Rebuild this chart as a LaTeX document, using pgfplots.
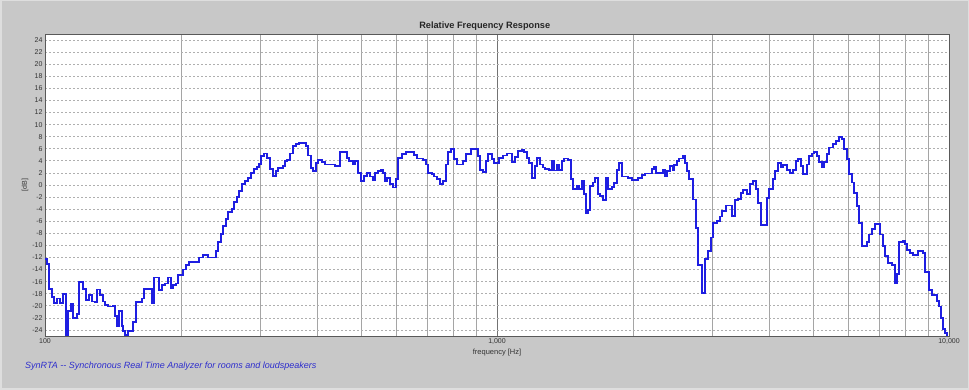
\documentclass[border=0pt]{standalone}
\usepackage{pgfplots}
\pgfplotsset{compat=1.18}
\usepackage{fontspec}
\setmainfont{Liberation Sans}
\definecolor{bgGray}{RGB}{200,200,200}
\definecolor{frameLight}{RGB}{222,222,222}
\definecolor{gridGray}{RGB}{165,165,165}
\definecolor{dotGray}{RGB}{175,175,175}
\definecolor{curveBlue}{RGB}{30,30,225}
\definecolor{footBlue}{RGB}{45,45,205}
\begin{document}
\begin{tikzpicture}[x=1pt,y=1pt]
\fill[bgGray] (0,0) rectangle (969,390);
\draw[frameLight,line width=1.5pt] (0.75,0.75) rectangle (968.25,389.25);
\begin{axis}[
  at={(45pt,54pt)}, anchor=south west,
  width=904pt, height=302pt, scale only axis,
  xmode=log, xmin=100, xmax=10000, ymin=-25, ymax=25,
  axis background/.style={fill=white},
  xtick={100,1000,10000},
  xticklabels={100,{1,000},{10,000}},
  minor xtick={200,300,400,500,600,700,800,900,2000,3000,4000,5000,6000,7000,8000,9000},
  ytick={-24,-22,...,24},
  xmajorgrids, xminorgrids, ymajorgrids,
  major x grid style={draw=black!55, line width=0.8pt},
  minor x grid style={draw=gridGray, line width=0.8pt},
  major y grid style={draw=dotGray, line width=0.7pt, dash pattern=on 2pt off 2pt},
  major tick length=0pt, minor tick length=0pt,
  axis line style={draw=black!65, line width=0.9pt},
  ticklabel style={font=\fontsize{7}{8}\selectfont, text=black!80},
  /pgf/number format/assume math mode=true,
  xticklabel style={yshift=1pt},
  yticklabel style={xshift=1pt},
  clip=true,
]
\addplot[const plot mark left, draw=curveBlue, line width=1.8pt, mark=none] table {
x y
100 -12.3
101.0 -13.1
102.2 -17.2
103.5 -18.5
104.8 -19.6
106.5 -18.8
107.9 -19.6
109.4 -18.0
111.3 -26
112.6 -20.8
114.0 -19.7
115.5 -22.0
117.5 -21.4
119.1 -16.1
121.5 -17.2
123.2 -19.0
125.3 -18.2
126.9 -19.3
129.0 -19.4
130.5 -17.3
132.3 -18.2
134.2 -19.3
135.8 -19.9
138.1 -20.1
141.6 -20.0
142.8 -21.7
144.1 -23.3
146.0 -20.9
147.8 -23.4
149.0 -24.2
150.3 -24.8
152.9 -24.2
156.8 -22.7
159.0 -19.4
163.7 -18.8
165.6 -17.2
172.2 -19.6
174.3 -15.3
179.0 -17.4
181.2 -16.6
184.3 -16.3
187.4 -15.3
189.7 -17.0
192.2 -16.5
194.9 -16.3
197.2 -14.9
202.3 -14.0
205.1 -13.2
208.6 -12.8
219.5 -12.0
224.0 -11.6
229.8 -12.0
239.0 -10.9
241.8 -9.5
244.7 -8.1
248.0 -6.8
251.5 -5.6
254.4 -4.5
258.9 -4.0
261.9 -2.8
265.6 -2.0
269.1 -1.0
272.4 0.1
277.0 0.6
281.7 1.2
285.2 2.0
290.0 2.6
294.0 3.0
297.9 3.5
300.0 4.8
305.2 5.2
309.3 4.5
314.6 2.6
319.0 1.5
324.4 2.3
328.2 2.8
335.6 3.1
339.6 4.0
343.6 4.2
348.3 5.2
353.2 6.4
359.2 6.8
365.3 7.0
377.9 6.4
382.4 4.9
387.1 2.8
392.3 2.3
397.7 3.7
402.4 4.2
409.4 3.8
416.4 3.4
438.2 3.2
449.4 5.4
465.1 4.5
471.3 4.0
479.5 3.5
485.1 4.0
493.3 2.0
500.0 0.7
508.6 1.5
514.9 2.0
523.6 1.4
530.9 0.8
537.1 2.0
546.2 2.3
552.9 2.5
558.6 2.0
565.2 0.7
571.8 1.1
579.8 0.2
589.7 -0.4
597.8 1.0
604.9 4.5
615.4 5.1
629.1 5.4
656.2 5.0
664.3 4.4
687.1 4.1
696.6 3.4
704.8 2.0
717.1 1.8
725.5 1.4
735.6 1.0
748.0 0.2
760.7 0.7
771.2 3.4
780.3 5.4
790.0 6.0
803.3 4.3
814.5 3.4
842.3 4.0
852.7 5.1
874.7 6.0
909.2 4.8
917.0 2.5
932.7 2.2
945.6 4.0
956.7 5.1
973.4 4.3
984.8 3.7
1012 4.5
1030 4.9
1051 5.2
1078 3.8
1096 4.7
1115 5.6
1134 5.8
1147 5.5
1163 4.5
1179 3.7
1193 1.1
1214 3.2
1228 4.5
1245 3.4
1262 2.9
1277 2.6
1305 2.5
1321 4.0
1337 2.4
1356 3.4
1374 2.5
1391 4.0
1409 4.4
1438 4.2
1456 1.0
1475 -0.7
1501 -0.2
1521 -0.7
1540 0.7
1558 -1.5
1571 -4.6
1592 -4.2
1606 -0.2
1628 0.4
1648 1.2
1670 -1.5
1690 -1.8
1719 -2.5
1743 1.2
1763 -0.6
1794 -0.3
1815 0.3
1840 2.5
1864 3.7
1888 1.4
1952 1.2
1986 0.8
2054 1.2
2090 1.6
2125 1.9
2199 2.7
2225 3.0
2248 2.0
2326 2.5
2353 1.5
2381 2.3
2414 3.2
2447 2.5
2464 3.3
2498 4.0
2531 4.4
2575 4.8
2606 3.7
2637 2.3
2664 1.0
2719 -2.4
2756 -7.1
2788 -13.3
2837 -17.9
2885 -12.3
2934 -10.9
2970 -8.7
3010 -6.3
3062 -6.0
3114 -5.2
3142 -4.3
3211 -3.4
3306 -5.1
3361 -2.5
3418 -2.3
3461 -1.3
3507 -0.8
3579 -1.5
3628 0.2
3679 0.7
3741 -0.6
3785 -3.0
3832 -6.6
3951 -2.1
4004 -0.6
4074 1.0
4122 2.3
4179 3.7
4243 2.9
4300 3.3
4375 2.5
4449 2.0
4524 2.5
4587 4.0
4641 4.3
4698 3.2
4761 1.8
4843 3.4
4908 4.8
4968 5.2
5027 5.5
5097 4.8
5165 3.8
5228 2.9
5290 3.8
5363 5.1
5435 6.2
5529 6.8
5623 7.3
5718 7.9
5789 7.6
5857 6.0
5939 4.3
6018 1.8
6092 0.4
6164 -1.3
6249 -3.5
6332 -6.3
6410 -10.1
6576 -9.5
6663 -8.2
6745 -7.3
6860 -6.4
7037 -8.2
7134 -10.1
7218 -11.8
7341 -12.9
7469 -13.3
7595 -16.2
7685 -14.8
7763 -9.4
7900 -9.3
7993 -9.8
8087 -10.7
8198 -11.3
8312 -11.6
8553 -10.9
8747 -11.3
8850 -14.4
9032 -17.4
9156 -18.2
9393 -19.2
9518 -20.1
9601 -22.0
9686 -23.8
9814 -24.5
9914 -26
10000 -26
};
\end{axis}
\node[font=\bfseries\fontsize{9.2}{11}\selectfont, text=black!85] at (484.7,364.3) {Relative Frequency Response};
\node[rotate=90, font=\fontsize{7}{8}\selectfont, text=black!80] at (25,205) {[dB]};
\node[font=\fontsize{7.5}{9}\selectfont, text=black!80] at (497,37.3) {frequency [Hz]};
\node[anchor=west, font=\itshape\fontsize{9}{11}\selectfont, text=footBlue, inner sep=0pt] at (25,24.3) {SynRTA -{}- Synchronous Real Time Analyzer for rooms and loudspeakers};
\end{tikzpicture}
\end{document}
